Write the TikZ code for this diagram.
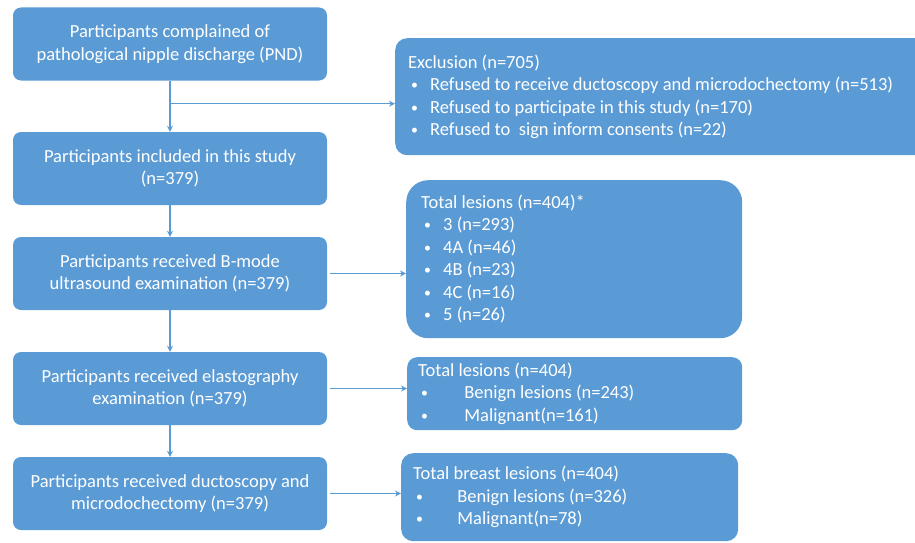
\documentclass[tikz,border=0pt]{standalone}
\usepackage{fontspec}
\setmainfont{Carlito}
\usetikzlibrary{arrows.meta, calc}
\definecolor{boxcol}{HTML}{5B9BD5}
\newcommand{\bul}[1][22pt]{\makebox[#1][l]{\hspace{3pt}\raisebox{1pt}{\scalebox{0.75}{\textbullet}}}}

\begin{document}
\begin{tikzpicture}[
    x=1pt, y=-1pt,
    txt/.style={font=\fontsize{18.5}{22.5}\selectfont, text=white},
    stage/.style={txt, fill=boxcol, rounded corners=8pt, minimum width=314pt,
                  minimum height=73pt, align=center, inner sep=0pt},
    result/.style={txt, fill=boxcol, anchor=north west, align=flush left,
                   inner ysep=0pt},
    flow/.style={-{Stealth[length=6pt, width=6pt]}, boxcol, line width=1.5pt}
  ]
  \useasboundingbox (0,0) rectangle (915,543);

  % ---- Main flow (left column) ----
  \node[stage] (pnd)   at (170, 44)    {Participants complained of\\pathological nipple discharge (PND)};
  \node[stage] (incl)  at (170, 168.5) {Participants included in this study\\(n=379)};
  \node[stage] (bmode) at (170, 273.5) {Participants received B-mode\\ultrasound examination (n=379)};
  \node[stage] (elast) at (170, 388.5) {Participants received elastography\\examination (n=379)};
  \node[stage] (duct)  at (170, 493.5) {Participants received ductoscopy and\\microdochectomy (n=379)};

  % ---- Side results (right column) ----
  \node[result, rounded corners=12pt, minimum height=117pt, inner xsep=13pt,
        text width=509pt] (excl) at (395, 38)
    {Exclusion (n=705)\\
     \bul Refused to receive ductoscopy and microdochectomy (n=513)\\
     \bul Refused to participate in this study (n=170)\\
     \bul Refused to\ \ sign inform consents (n=22)};

  \node[result, rounded corners=22pt, minimum height=158pt, inner xsep=15pt,
        text width=306pt] (birads) at (406, 180)
    {Total lesions (n=404)*\\
     \bul 3 (n=293)\\
     \bul 4A (n=46)\\
     \bul 4B (n=23)\\
     \bul 4C (n=16)\\
     \bul 5 (n=26)};

  \node[result, rounded corners=10pt, minimum height=73pt, inner xsep=11pt,
        text width=313pt] (elastres) at (407, 357)
    {Total lesions (n=404)\\
     \bul[42pt] Benign lesions (n=243)\\
     \bul[42pt] Malignant(n=161)};

  \node[result, rounded corners=12pt, minimum height=88pt, inner xsep=12pt,
        text width=313pt] (ductres) at (401, 453)
    {Total breast lesions (n=404)\\
     \bul[40pt] Benign lesions (n=326)\\
     \bul[40pt] Malignant(n=78)};

  % ---- Connectors ----
  \draw[flow] (pnd) -- (incl);
  \draw[flow] (incl) -- (bmode);
  \draw[flow] (bmode) -- (elast);
  \draw[flow] (elast) -- (duct);

  \coordinate (split) at ($(pnd.south)+(0,23)$);
  \draw[flow] (split) -- (split -| excl.west);

  \draw[flow, shorten <=3pt] (bmode.east) -- (bmode.east -| birads.west);
  \draw[flow, shorten <=3pt] (elast.east) -- (elast.east -| elastres.west);
  \draw[flow, shorten <=3pt] (duct.east) -- (duct.east -| ductres.west);

\end{tikzpicture}
\end{document}
